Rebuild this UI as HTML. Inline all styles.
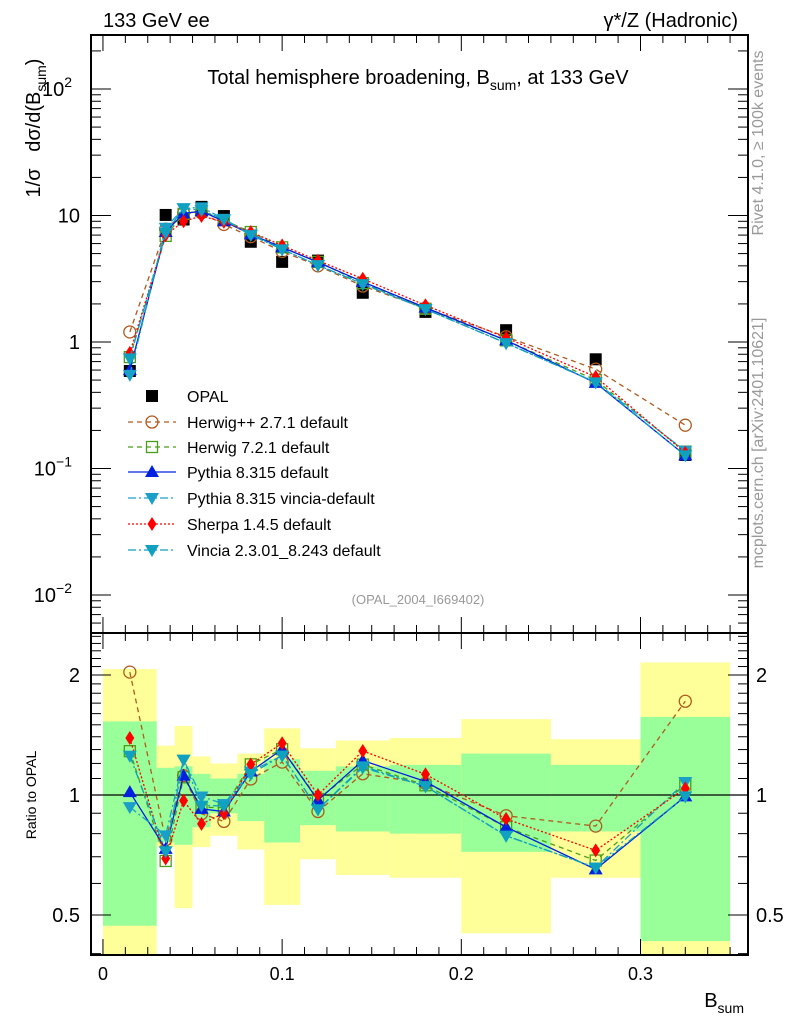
<!DOCTYPE html>
<html><head><meta charset="utf-8"><style>
body{margin:0;background:#fff;}
svg{display:block;font-family:"Liberation Sans",sans-serif;}
</style></head><body>
<svg id="c" width="786" height="1024" xmlns="http://www.w3.org/2000/svg">
<text x="103" y="27" font-size="20">133 GeV ee</text>
<text x="738" y="27" font-size="20" text-anchor="end">γ*/Z (Hadronic)</text>
<text x="418" y="84" font-size="20" text-anchor="middle">Total hemisphere broadening, B<tspan font-size="14" dy="6">sum</tspan><tspan dy="-6">, at 133 GeV</tspan></text>
<text x="418" y="604" font-size="13" fill="#999" text-anchor="middle">(OPAL_2004_I669402)</text>
<text transform="translate(763,143) rotate(-90)" font-size="16" fill="#999" text-anchor="middle">Rivet 4.1.0, ≥ 100k events</text>
<text transform="translate(763,443) rotate(-90)" font-size="16" fill="#999" text-anchor="middle">mcplots.cern.ch [arXiv:2401.10621]</text>
<text transform="translate(40,128) rotate(-90)" font-size="20" text-anchor="middle" xml:space="preserve">1/σ   dσ/d(B<tspan font-size="14" dy="6">sum</tspan><tspan dy="-6">)</tspan></text>
<text transform="translate(36,795) rotate(-90)" font-size="14" text-anchor="middle">Ratio to OPAL</text>
<text x="744" y="1007" font-size="20" text-anchor="end">B<tspan font-size="14" dy="6">sum</tspan></text>
<g id="g"></g>
</svg>
<script>
const binEdges=[0,0.03,0.04,0.05,0.06,0.075,0.09,0.11,0.13,0.16,0.2,0.25,0.3,0.35];
const binCenters=[0.015,0.035,0.045,0.055,0.0675,0.0825,0.1,0.12,0.145,0.18,0.225,0.275,0.325];
const opalValues=[0.59,10.1,9.3,11.7,9.9,6.2,4.3,4.4,2.45,1.73,1.24,0.73,0.128];
const bandYellowHi=[2.07,1.33,1.49,1.25,1.20,1.27,1.47,1.31,1.37,1.39,1.55,1.38,2.15];
const bandGreenHi=[1.53,1.17,1.18,1.13,1.10,1.13,1.23,1.15,1.18,1.19,1.27,1.19,1.57];
const bandGreenLo=[0.47,0.76,0.75,0.83,0.90,0.86,0.76,0.84,0.81,0.80,0.72,0.81,0.43];
const bandYellowLo=[0.3,0.74,0.52,0.74,0.79,0.73,0.53,0.69,0.63,0.62,0.45,0.62,0.3];
const herwigPP=[1.20,7.8,10.4,10.5,8.5,6.8,5.2,4.0,2.77,1.85,1.10,0.61,0.22];
const herwig7=[0.76,6.9,10.3,10.9,9.2,7.4,5.6,4.3,2.92,1.83,1.03,0.50,0.136];
const pythia=[0.60,7.4,10.4,10.8,9.0,7.1,5.6,4.27,2.99,1.87,1.03,0.475,0.127];
const pythiaVincia=[0.55,8.0,11.4,11.6,9.4,7.1,5.4,4.05,2.89,1.82,0.98,0.48,0.138];
const sherpa=[0.82,7.0,9.0,9.9,8.9,7.4,5.8,4.4,3.16,1.95,1.08,0.53,0.133];
const vincia2=[0.74,7.3,11.4,11.0,9.3,7.0,5.4,4.05,2.87,1.82,0.98,0.48,0.127];
const xTicks=[0,0.1,0.2,0.3];
const xTickLabels=["0","0.1","0.2","0.3"];
const ratioTicks=[0.5,1,2];
const ratioTickLabels=["0.5","1","2"];

const NS="http://www.w3.org/2000/svg";
const G=document.getElementById('g');
const L=91,R=748,T1=35,B1=633,B2=955;
const X0=-0.00667,X1=0.36;
const sx=v=>L+(v-X0)/(X1-X0)*(R-L);
const sy=v=>342-Math.log10(v)*126.5;
const sr=v=>795-Math.log2(v)*120;
function el(tag,a,parent){const e=document.createElementNS(NS,tag);for(const k in a)e.setAttribute(k,a[k]);(parent||G).appendChild(e);return e;}

const bandG=el('g',{});


for(let i=0;i<binCenters.length;i++){
  const x1=sx(binEdges[i]),x2=sx(binEdges[i+1]);
  const yt=Math.max(B1,sr(bandYellowHi[i])),yb=Math.min(B2,sr(bandYellowLo[i]));
  const y=el('rect',{x:x1,y:yt,width:x2-x1,height:yb-yt,fill:'#ffff99'},bandG);
  
  
  const gt=sr(bandGreenHi[i]),gb=Math.min(B2,sr(bandGreenLo[i]));
  const g=el('rect',{x:x1,y:gt,width:x2-x1,height:gb-gt,fill:'#99ff99'},bandG);
  
  
}
el('line',{x1:L,x2:R,y1:sr(1),y2:sr(1),stroke:'#000','stroke-width':1.2});

const f1=el('rect',{x:L,y:T1,width:R-L,height:B1-T1,fill:'none',stroke:'#000','stroke-width':2});


const f2=el('rect',{x:L,y:B1,width:R-L,height:B2-B1,fill:'none',stroke:'#000','stroke-width':2});



for(let v=0;v<=0.35001;v+=0.0125){
  const maj=Math.abs(v/0.1-Math.round(v/0.1))<1e-6, len=maj?16:8, x=sx(v);
  for(const [yb,dir] of [[T1,1],[B1,-1],[B1,1],[B2,-1]]) el('line',{x1:x,x2:x,y1:yb,y2:yb+dir*len,stroke:'#000'});
}
xTicks.forEach((v,i)=>{const t=el('text',{x:sx(v),y:980,'font-size':18,'text-anchor':'middle'});t.textContent=xTickLabels[i];

});

for(let d=-3;d<=2;d++){for(let m=1;m<10;m++){const v=m*Math.pow(10,d),y=sy(v);if(y<T1||y>B1)continue;
  const len=m==1?20:10;el('line',{x1:L,x2:L+len,y1:y,y2:y,stroke:'#000'});el('line',{x1:R,x2:R-len,y1:y,y2:y,stroke:'#000'});}}
[[100,'10','2'],[10,'10',null],[1,'1',null],[0.1,'10','−1'],[0.01,'10','−2']].forEach(([v,b,e])=>{
  const t=el('text',{x:e?72:80,y:sy(v)+7,'font-size':20,'text-anchor':'end'});
  
  
  t.textContent=b; if(e){const s=el('tspan',{'font-size':14,dy:-9},t);s.textContent=e;}
});
for(let v=0.3;v<=2.6;v+=0.1){const y=sr(v);if(y<B1||y>B2)continue;const maj=[0.5,1,2].some(q=>Math.abs(q-v)<1e-6);const len=maj?20:10;
  el('line',{x1:L,x2:L+len,y1:y,y2:y,stroke:'#000'});el('line',{x1:R,x2:R-len,y1:y,y2:y,stroke:'#000'});}
ratioTicks.forEach((v,i)=>{for(const [x,a] of [[80,'end'],[756,'start']]){const t=el('text',{x:x,y:sr(v)+7,'font-size':20,'text-anchor':a});t.textContent=ratioTickLabels[i];

}});

function marker(type,x,y,c,p){
  if(type=='sq')return el('rect',{x:x-6,y:y-6,width:12,height:12,fill:'#000'},p);
  if(type=='circ')return el('circle',{cx:x,cy:y,r:6,fill:'none',stroke:c,'stroke-width':1.3},p);
  if(type=='osq')return el('rect',{x:x-5.5,y:y-5.5,width:11,height:11,fill:'none',stroke:c,'stroke-width':1.3},p);
  if(type=='tu')return el('path',{d:`M${x},${y-7}L${x+7},${y+5}L${x-7},${y+5}Z`,fill:c},p);
  if(type=='td')return el('path',{d:`M${x},${y+7}L${x+7},${y-5}L${x-7},${y-5}Z`,fill:c},p);
  if(type=='dia')return el('path',{d:`M${x},${y-7}L${x+4.5},${y}L${x},${y+7}L${x-4.5},${y}Z`,fill:c},p);
}
const series=[
 {n:'herwigpp',vals:herwigPP,c:'#b05a1e',m:'circ',dash:'5,4',lab:'Herwig++ 2.7.1 default'},
 {n:'herwig7',vals:herwig7,c:'#4a9e1a',m:'osq',dash:'5,4',lab:'Herwig 7.2.1 default'},
 {n:'pythia',vals:pythia,c:'#0020e0',m:'tu',dash:'',lab:'Pythia 8.315 default'},
 {n:'pythia-vincia',vals:pythiaVincia,c:'#1aa0c8',m:'td',dash:'8,3,2,3',lab:'Pythia 8.315 vincia-default'},
 {n:'sherpa',vals:sherpa,c:'#ff0000',m:'dia',dash:'2,2',lab:'Sherpa 1.4.5 default'},
 {n:'vincia',vals:vincia2,c:'#10a0c0',m:'td',dash:'8,3,2,3',lab:'Vincia 2.3.01_8.243 default'},
];
const og=el('g',{});


opalValues.forEach((v,i)=>marker('sq',sx(binCenters[i]),sy(v),'#000',og));
series.forEach(s=>{
  const g=el('g',{});
  
  
  const pm=s.vals.map((v,i)=>sx(binCenters[i])+','+sy(v)).join(' ');
  const pr=s.vals.map((v,i)=>sx(binCenters[i])+','+sr(v/opalValues[i])).join(' ');
  const a={fill:'none',stroke:s.c,'stroke-width':1.3};if(s.dash)a['stroke-dasharray']=s.dash;
  el('polyline',Object.assign({points:pm},a),g);
  el('polyline',Object.assign({points:pr},a),g);
  s.vals.forEach((v,i)=>{marker(s.m,sx(binCenters[i]),sy(v),s.c,g);marker(s.m,sx(binCenters[i]),sr(v/opalValues[i]),s.c,g);});
});
const lg=el('g',{});


const ly=[396,422,447,472,498,524,550];
marker('sq',152,ly[0],'#000',lg);
let t0=el('text',{x:187,y:ly[0]+6,'font-size':16},lg);t0.textContent='OPAL';


series.forEach((s,k)=>{
  const y=ly[k+1];const a={x1:128,x2:176,y1:y,y2:y,stroke:s.c,'stroke-width':1.3};if(s.dash)a['stroke-dasharray']=s.dash;
  el('line',a,lg);marker(s.m,152,y,s.c,lg);
  const t=el('text',{x:187,y:y+6,'font-size':16},lg);t.textContent=s.lab;
  
  
});
</script>
</body></html>
